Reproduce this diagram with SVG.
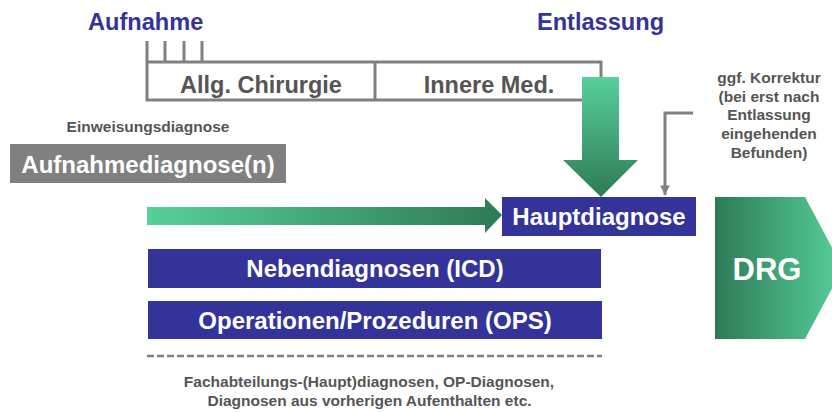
<svg xmlns="http://www.w3.org/2000/svg" width="832" height="412" viewBox="0 0 832 412">
<defs>
<linearGradient id="gH" x1="0" y1="0" x2="1" y2="0"><stop offset="0" stop-color="#57D09A"/><stop offset="1" stop-color="#2E7A57"/></linearGradient>
<linearGradient id="gV" x1="0" y1="0" x2="0" y2="1"><stop offset="0" stop-color="#57D09A"/><stop offset="1" stop-color="#2E7A57"/></linearGradient>
<linearGradient id="gD" x1="0" y1="0" x2="1" y2="0"><stop offset="0" stop-color="#2E7A57"/><stop offset="1" stop-color="#57D09A"/></linearGradient>
<marker id="ah" viewBox="0 0 10 10" refX="10" refY="5" markerWidth="3.2" markerHeight="3.2" orient="auto" markerUnits="strokeWidth"><path d="M0,0 L10,5 L0,10 z" fill="#808080"/></marker>
</defs>
<style>
text{font-family:"Liberation Sans",Arial,sans-serif;font-weight:bold}
.title{fill:#333399;font-size:23.6px}
.dept{fill:#555555;font-size:23.5px;text-anchor:middle}
.small{fill:#555555;font-size:15.5px;text-anchor:middle}
.wt{fill:#ffffff;font-size:24px;text-anchor:middle}
.blue{fill:#333399}
.line{fill:none;stroke:#808080;stroke-width:3}
</style>
<g id="aufnahme"><text class="title" x="88" y="30">Aufnahme</text></g>
<g id="entlassung"><text class="title" x="600.5" y="30" text-anchor="middle">Entlassung</text></g>
<g id="timeline">
<rect class="line" x="147" y="62" width="454" height="38"/>
<line class="line" x1="375" y1="62" x2="375" y2="100"/>
<path class="line" d="M147,41 V62 M165,41 V62 M184,41 V62 M202,41 V62"/>
<text class="dept" x="261" y="93">Allg. Chirurgie</text>
<text class="dept" x="489" y="93">Innere Med.</text>
</g>
<g id="einweisung"><text class="small" x="148" y="132">Einweisungsdiagnose</text></g>
<g id="aufnahmediagnose">
<rect x="10" y="144" width="276" height="39" fill="#808080"/>
<text class="wt" x="148" y="173">Aufnahmediagnose(n)</text>
</g>
<g id="korrektur">
<text class="small" x="769" y="83">ggf. Korrektur</text>
<text class="small" x="769" y="102">(bei erst nach</text>
<text class="small" x="769" y="120">Entlassung</text>
<text class="small" x="769" y="139">eingehenden</text>
<text class="small" x="769" y="158">Befunden)</text>
</g>
<g id="hauptdiagnose">
<rect class="blue" x="502" y="197" width="194" height="39"/>
<text class="wt" x="599" y="225">Hauptdiagnose</text>
</g>
<g id="nebendiagnosen">
<rect class="blue" x="148" y="249" width="453" height="39"/>
<text class="wt" x="375" y="277">Nebendiagnosen (ICD)</text>
</g>
<g id="ops">
<rect class="blue" x="148" y="301" width="454" height="38"/>
<text class="wt" x="375" y="329">Operationen/Prozeduren (OPS)</text>
</g>
<g id="drg">
<polygon points="715,197 805,197 843,268 805,339 715,339" fill="url(#gD)"/>
<text class="wt" x="767" y="280" style="font-size:31px">DRG</text>
</g>
<g id="footer">
<line x1="147" y1="356" x2="602" y2="356" stroke="#808080" stroke-width="2.5" stroke-dasharray="7,3"/>
<text class="small" x="369" y="387">Fachabteilungs-(Haupt)diagnosen, OP-Diagnosen,</text>
<text class="small" x="369.5" y="406">Diagnosen aus vorherigen Aufenthalten etc.</text>
</g>
<g id="connectors">
<polygon points="582,77 619,77 619,160 638,160 601,197 563,160 582,160" fill="url(#gV)"/>
<polygon points="147,207 485,207 485,198 502,215 485,233 485,225 147,225" fill="url(#gH)"/>
<path d="M693,113 H665 V195" fill="none" stroke="#808080" stroke-width="3" marker-end="url(#ah)"/>
</g>
</svg>
